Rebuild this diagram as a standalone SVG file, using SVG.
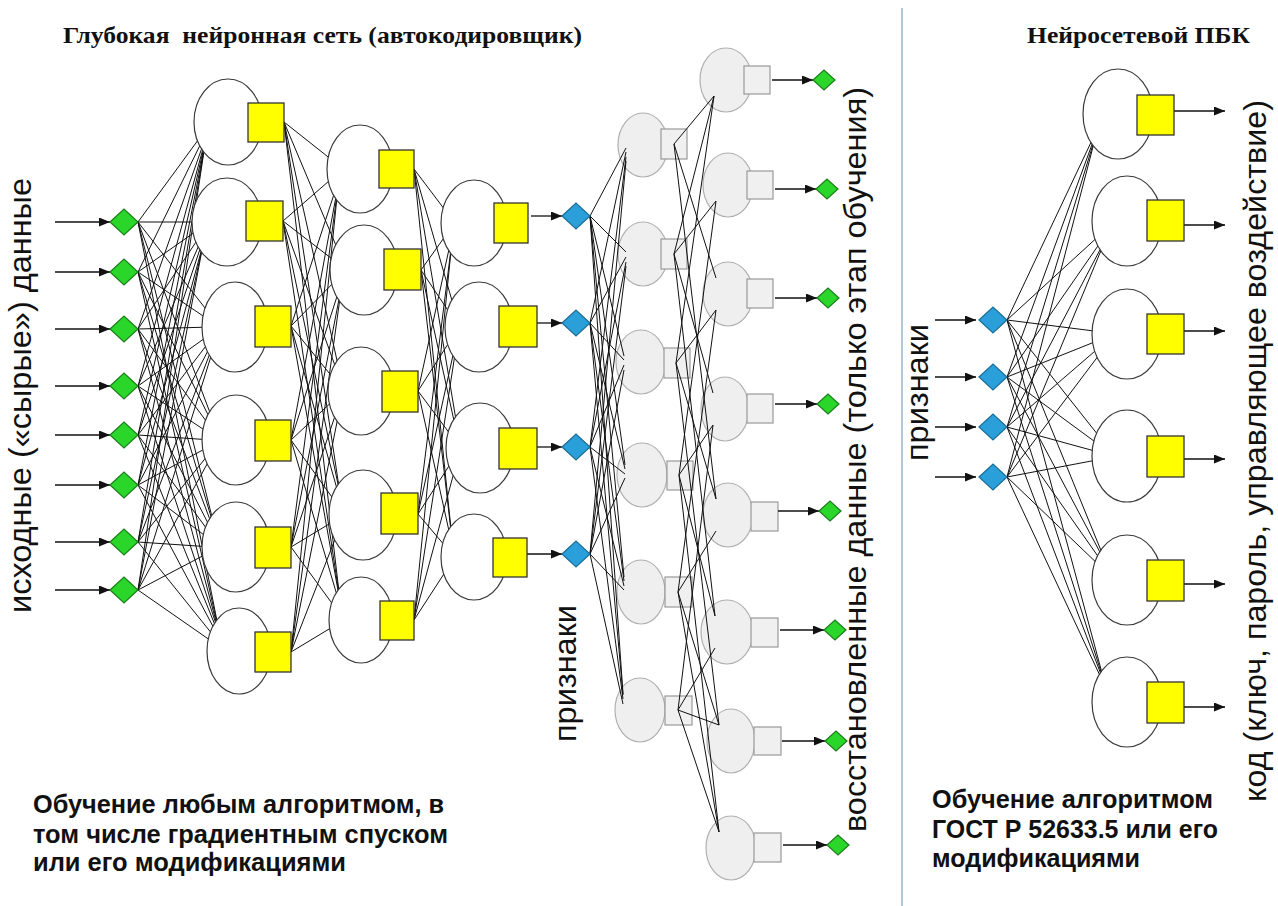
<svg xmlns="http://www.w3.org/2000/svg" width="1278" height="906" viewBox="0 0 1278 906">
  <style>
    .ln { stroke:#111; stroke-width:1; fill:none; }
    .ar { stroke:#111; stroke-width:1.3; fill:none; marker-end:url(#ah); }
    .enc { fill:#fff; stroke:#3a3a3a; stroke-width:1.2; }
    .ysq { fill:#ffff00; stroke:#333; stroke-width:1.3; }
    .dec { fill:#efefef; stroke:#b0b0b0; stroke-width:1.2; }
    .gsq { fill:#f0f0f0; stroke:#999; stroke-width:1.2; }
    .gd { fill:#2bd62b; stroke:#1c7d1c; stroke-width:1.2; }
    .bd { fill:#2b9fd9; stroke:#1d6d96; stroke-width:1.2; }
    .vt { font-family:"Liberation Sans", Arial, sans-serif; font-size:32px; fill:#111; }
    .hd { font-family:"Liberation Serif", "Times New Roman", serif; font-weight:bold; font-size:23px; fill:#111; }
    .nt { font-family:"Liberation Sans", Arial, sans-serif; font-weight:bold; font-size:25px; fill:#111; }
  </style>
  <defs>
    <marker id="ah" markerUnits="userSpaceOnUse" markerWidth="11" markerHeight="9" refX="11" refY="4.5" orient="auto">
      <path d="M0,0 L11,4.5 L0,9 z" fill="#111"/>
    </marker>
  </defs>
  <rect width="1278" height="906" fill="#fff"/>

  <!-- headings -->
  <text class="hd" x="63" y="43" textLength="519" lengthAdjust="spacingAndGlyphs" xml:space="preserve">Глубокая  нейронная сеть (автокодировщик)</text>
  <text class="hd" x="1027" y="43" textLength="223" lengthAdjust="spacingAndGlyphs">Нейросетевой ПБК</text>

  <!-- vertical labels -->
  <text class="vt" transform="translate(31,613) rotate(-90)" textLength="435" lengthAdjust="spacingAndGlyphs">исходные («сырые») данные</text>
  <text class="vt" transform="translate(576,742) rotate(-90)" textLength="137" lengthAdjust="spacingAndGlyphs">признаки</text>
  <text class="vt" transform="translate(866,832) rotate(-90)" textLength="745" lengthAdjust="spacingAndGlyphs">восстановленные данные (только этап обучения)</text>
  <text class="vt" transform="translate(928,461) rotate(-90)" textLength="137" lengthAdjust="spacingAndGlyphs">признаки</text>
  <text class="vt" transform="translate(1266,802) rotate(-90)" textLength="702" lengthAdjust="spacingAndGlyphs">код (ключ, пароль, управляющее воздействие)</text>

  <!-- notes -->
  <text class="nt" x="33" y="813" textLength="411" lengthAdjust="spacingAndGlyphs">Обучение любым алгоритмом, в</text>
  <text class="nt" x="33" y="843" textLength="415" lengthAdjust="spacingAndGlyphs">том числе градиентным спуском</text>
  <text class="nt" x="33" y="871" textLength="313" lengthAdjust="spacingAndGlyphs">или его модификациями</text>
  <text class="nt" x="932" y="808" textLength="281" lengthAdjust="spacingAndGlyphs">Обучение алгоритмом</text>
  <text class="nt" x="932" y="838" textLength="286" lengthAdjust="spacingAndGlyphs">ГОСТ Р 52633.5 или его</text>
  <text class="nt" x="932" y="867" textLength="208" lengthAdjust="spacingAndGlyphs">модификациями</text>

  <!-- section divider -->
  <line x1="902" y1="8" x2="902" y2="906" stroke="#9db3c6" stroke-width="1.5"/>

  <!-- decoder, first hidden layer -->
  <g id="dec1-1"><ellipse class="dec" cx="643" cy="145" rx="25" ry="32"/><rect class="gsq" x="661" y="129" width="26" height="30"/></g>
  <g id="dec1-2"><ellipse class="dec" cx="643" cy="254" rx="25" ry="32"/><rect class="gsq" x="661" y="239" width="26" height="30"/></g>
  <g id="dec1-3"><ellipse class="dec" cx="641" cy="362" rx="25" ry="32"/><rect class="gsq" x="664" y="348" width="26" height="30"/></g>
  <g id="dec1-4"><ellipse class="dec" cx="642" cy="475" rx="25" ry="32"/><rect class="gsq" x="667" y="461" width="26" height="29"/></g>
  <g id="dec1-5"><ellipse class="dec" cx="641" cy="592" rx="24" ry="32"/><rect class="gsq" x="665" y="577" width="27" height="30"/></g>
  <g id="dec1-6"><ellipse class="dec" cx="640" cy="710" rx="25" ry="32"/><rect class="gsq" x="665" y="696" width="27" height="29"/></g>

  <!-- decoder, output layer -->
  <g id="dec2-1"><ellipse class="dec" cx="726" cy="80" rx="26" ry="32"/><rect class="gsq" x="744" y="66" width="26" height="28"/></g>
  <g id="dec2-2"><ellipse class="dec" cx="728" cy="185" rx="25" ry="32"/><rect class="gsq" x="747" y="171" width="26" height="28"/></g>
  <g id="dec2-3"><ellipse class="dec" cx="728" cy="294" rx="25" ry="32"/><rect class="gsq" x="747" y="279" width="26" height="29"/></g>
  <g id="dec2-4"><ellipse class="dec" cx="725" cy="409" rx="24" ry="32"/><rect class="gsq" x="747" y="394" width="26" height="29"/></g>
  <g id="dec2-5"><ellipse class="dec" cx="728" cy="515" rx="25" ry="32"/><rect class="gsq" x="751" y="502" width="27" height="29"/></g>
  <g id="dec2-6"><ellipse class="dec" cx="727" cy="632" rx="26" ry="32"/><rect class="gsq" x="751" y="618" width="27" height="29"/></g>
  <g id="dec2-7"><ellipse class="dec" cx="731" cy="741" rx="24" ry="32"/><rect class="gsq" x="754" y="727" width="27" height="28"/></g>
  <g id="dec2-8"><ellipse class="dec" cx="731" cy="848" rx="25" ry="32"/><rect class="gsq" x="754" y="833" width="27" height="29"/></g>

  <g id="connectors">
    <!-- raw inputs -->
    <line class="ar" x1="55" y1="222" x2="110" y2="222"/>
    <line class="ar" x1="55" y1="272" x2="110" y2="272"/>
    <line class="ar" x1="55" y1="329" x2="110" y2="329"/>
    <line class="ar" x1="55" y1="386" x2="110" y2="386"/>
    <line class="ar" x1="55" y1="435" x2="110" y2="435"/>
    <line class="ar" x1="55" y1="485" x2="110" y2="485"/>
    <line class="ar" x1="55" y1="542" x2="110" y2="542"/>
    <line class="ar" x1="55" y1="590" x2="110" y2="590"/>

    <!-- inputs to hidden layer 1 -->
    <path class="ln" d="M138 222L204 132M138 272L204 137M138 329L204 142M138 386L204 145M138 435L204 147M138 485L204 149M138 542L204 150M138 590L204 151"/>
    <path class="ln" d="M138 222L202 222M138 272L202 227M138 329L202 233M138 386L202 238M138 435L202 243M138 485L202 248M138 542L202 249M138 590L202 250"/>
    <path class="ln" d="M138 222L212 317M138 272L212 322M138 329L212 327M138 386L212 333M138 435L212 338M138 485L212 343M138 542L212 348M138 590L212 353"/>
    <path class="ln" d="M138 222L212 418M138 272L212 423M138 329L212 429M138 386L212 435M138 435L212 440M138 485L212 445M138 542L212 450M138 590L212 455"/>
    <path class="ln" d="M138 222L212 517M138 272L212 520M138 329L212 525M138 386L212 531M138 435L212 536M138 485L212 541M138 542L212 547M138 590L212 551"/>
    <path class="ln" d="M138 222L217 621M138 272L217 623M138 329L217 625M138 386L217 627M138 435L217 630M138 485L217 634M138 542L217 640M138 590L217 645"/>

    <!-- hidden layer 1 to hidden layer 2 -->
    <path class="ln" d="M284 122L337 164M283 221L337 174M291 326L337 185M291 440L337 191M291 547L337 194M291 652L337 197"/>
    <path class="ln" d="M284 122L340 255M283 221L340 265M291 326L340 276M291 440L340 287M291 547L340 294M291 652L340 298"/>
    <path class="ln" d="M284 122L338 365M283 221L338 374M291 326L338 384M291 440L338 396M291 547L338 407M291 652L338 417"/>
    <path class="ln" d="M284 122L339 487M283 221L339 489M291 326L339 496M291 440L339 507M291 547L339 518M291 652L339 529"/>
    <path class="ln" d="M284 122L339 592M283 221L339 594M291 326L339 596M291 440L339 602M291 547L339 613M291 652L339 623"/>

    <!-- hidden layer 2 to code layer -->
    <path class="ln" d="M414 169L451 218M421 270L451 228M418 391L451 240M418 514L451 249M414 620L451 251"/>
    <path class="ln" d="M414 169L455 311M421 270L455 321M418 391L455 333M418 514L455 346M414 620L455 354"/>
    <path class="ln" d="M414 169L456 420M421 270L456 430M418 391L456 442M418 514L456 455M414 620L456 465"/>
    <path class="ln" d="M414 169L451 529M421 270L451 531M418 391L451 540M418 514L451 553M414 620L451 563"/>

    <!-- code layer outputs -->
    <line class="ar" x1="531" y1="216" x2="562" y2="216"/>
    <line class="ar" x1="537" y1="323" x2="562" y2="323"/>
    <line class="ar" x1="537" y1="447" x2="562" y2="447"/>
    <line class="ar" x1="527" y1="554" x2="562" y2="554"/>

    <!-- features to decoder layer 1 -->
    <path class="ln" d="M590 216L626 148M590 323L626 152M590 447L626 157M590 554L626 161"/>
    <path class="ln" d="M590 216L626 252M590 323L626 257M590 447L626 262M590 554L626 266"/>
    <path class="ln" d="M590 216L624 356M590 323L624 360M590 447L624 365M590 554L624 370"/>
    <path class="ln" d="M590 216L625 465M590 323L625 469M590 447L625 474M590 554L625 478"/>
    <path class="ln" d="M590 216L624 577M590 323L624 581M590 447L624 586M590 554L624 590"/>
    <path class="ln" d="M590 216L623 694M590 323L623 695M590 447L623 699M590 554L623 704"/>

    <!-- decoder layer 1 to decoder layer 2 -->
    <path class="ln" d="M674 144L714 96M674 144L716 278M674 144L716 499"/>
    <path class="ln" d="M674 254L714 96M674 254L716 201M674 254L713 393M674 254L715 616"/>
    <path class="ln" d="M676 363L714 96M676 363L716 310M676 363L716 499M676 363L719 725"/>
    <path class="ln" d="M679 475L716 201M679 475L713 425M679 475L715 616M679 475L719 832"/>
    <path class="ln" d="M678 592L716 310M678 592L716 531M678 592L719 725M678 592L719 832"/>
    <path class="ln" d="M678 710L713 425M678 710L715 648M678 710L719 725M678 710L719 832"/>

    <!-- reconstructed outputs -->
    <line class="ar" x1="772" y1="80" x2="813" y2="80"/>
    <line class="ar" x1="775" y1="189" x2="816" y2="189"/>
    <line class="ar" x1="775" y1="298" x2="817" y2="298"/>
    <line class="ar" x1="775" y1="404" x2="817" y2="404"/>
    <line class="ar" x1="778" y1="511" x2="819" y2="511"/>
    <line class="ar" x1="780" y1="630" x2="824" y2="630"/>
    <line class="ar" x1="782" y1="741" x2="825" y2="741"/>
    <line class="ar" x1="783" y1="845" x2="827" y2="845"/>

    <!-- converter inputs -->
    <line class="ar" x1="935" y1="320" x2="976" y2="320"/>
    <line class="ar" x1="935" y1="377" x2="976" y2="377"/>
    <line class="ar" x1="935" y1="427" x2="976" y2="427"/>
    <line class="ar" x1="935" y1="477" x2="976" y2="477"/>

    <!-- features to converter neurons -->
    <path class="ln" d="M1007 320L1094 136M1007 377L1094 139M1007 427L1094 141M1007 477L1094 143"/>
    <path class="ln" d="M1007 320L1102 233M1007 377L1102 240M1007 427L1102 246M1007 477L1102 248"/>
    <path class="ln" d="M1007 320L1102 332M1007 377L1102 339M1007 427L1102 345M1007 477L1102 351"/>
    <path class="ln" d="M1007 320L1102 440M1007 377L1102 447M1007 427L1102 453M1007 477L1102 459"/>
    <path class="ln" d="M1007 320L1102 553M1007 377L1102 556M1007 427L1102 562M1007 477L1102 568"/>
    <path class="ln" d="M1007 320L1102 673M1007 377L1102 675M1007 427L1102 677M1007 477L1102 680"/>

    <!-- converter outputs -->
    <line class="ar" x1="1174" y1="111" x2="1225" y2="111"/>
    <line class="ar" x1="1184" y1="225" x2="1225" y2="225"/>
    <line class="ar" x1="1184" y1="331" x2="1225" y2="331"/>
    <line class="ar" x1="1184" y1="459" x2="1225" y2="459"/>
    <line class="ar" x1="1184" y1="584" x2="1225" y2="584"/>
    <line class="ar" x1="1184" y1="707" x2="1225" y2="707"/>
  </g>

  <!-- raw input points -->
  <g id="in-1"><polygon class="gd" points="110,222 124,209 138,222 124,235"/></g>
  <g id="in-2"><polygon class="gd" points="110,272 124,259 138,272 124,285"/></g>
  <g id="in-3"><polygon class="gd" points="110,329 124,316 138,329 124,342"/></g>
  <g id="in-4"><polygon class="gd" points="110,386 124,373 138,386 124,399"/></g>
  <g id="in-5"><polygon class="gd" points="110,435 124,422 138,435 124,448"/></g>
  <g id="in-6"><polygon class="gd" points="110,485 124,472 138,485 124,498"/></g>
  <g id="in-7"><polygon class="gd" points="110,542 124,529 138,542 124,555"/></g>
  <g id="in-8"><polygon class="gd" points="110,590 124,577 138,590 124,603"/></g>

  <!-- encoder, hidden layer 1 -->
  <g id="h1-1"><ellipse class="enc" cx="228" cy="122" rx="34" ry="43"/><rect class="ysq" x="248" y="103" width="36" height="39"/></g>
  <g id="h1-2"><ellipse class="enc" cx="227" cy="222" rx="35" ry="44"/><rect class="ysq" x="246" y="201" width="37" height="40"/></g>
  <g id="h1-3"><ellipse class="enc" cx="235" cy="327" rx="33" ry="45"/><rect class="ysq" x="255" y="306" width="36" height="41"/></g>
  <g id="h1-4"><ellipse class="enc" cx="236" cy="440" rx="34" ry="45"/><rect class="ysq" x="255" y="420" width="36" height="41"/></g>
  <g id="h1-5"><ellipse class="enc" cx="236" cy="547" rx="34" ry="45"/><rect class="ysq" x="255" y="527" width="36" height="41"/></g>
  <g id="h1-6"><ellipse class="enc" cx="239" cy="651" rx="32" ry="43"/><rect class="ysq" x="255" y="632" width="36" height="40"/></g>

  <!-- encoder, hidden layer 2 -->
  <g id="h2-1"><ellipse class="enc" cx="360" cy="169" rx="33" ry="44"/><rect class="ysq" x="379" y="150" width="35" height="38"/></g>
  <g id="h2-2"><ellipse class="enc" cx="364" cy="270" rx="34" ry="45"/><rect class="ysq" x="384" y="249" width="37" height="41"/></g>
  <g id="h2-3"><ellipse class="enc" cx="361" cy="391" rx="33" ry="44"/><rect class="ysq" x="382" y="371" width="36" height="41"/></g>
  <g id="h2-4"><ellipse class="enc" cx="363" cy="515" rx="34" ry="45"/><rect class="ysq" x="381" y="493" width="37" height="41"/></g>
  <g id="h2-5"><ellipse class="enc" cx="361" cy="620" rx="32" ry="43"/><rect class="ysq" x="380" y="601" width="34" height="39"/></g>

  <!-- encoder, code layer -->
  <g id="h3-1"><ellipse class="enc" cx="474" cy="223" rx="33" ry="43"/><rect class="ysq" x="494" y="203" width="34" height="40"/></g>
  <g id="h3-2"><ellipse class="enc" cx="479" cy="327" rx="34" ry="45"/><rect class="ysq" x="499" y="306" width="38" height="41"/></g>
  <g id="h3-3"><ellipse class="enc" cx="480" cy="448" rx="34" ry="45"/><rect class="ysq" x="499" y="428" width="38" height="41"/></g>
  <g id="h3-4"><ellipse class="enc" cx="474" cy="557" rx="33" ry="43"/><rect class="ysq" x="493" y="538" width="34" height="39"/></g>

  <!-- extracted features -->
  <g id="feat-1"><polygon class="bd" points="562,216 576,203 590,216 576,229"/></g>
  <g id="feat-2"><polygon class="bd" points="562,323 576,310 590,323 576,336"/></g>
  <g id="feat-3"><polygon class="bd" points="562,447 576,434 590,447 576,460"/></g>
  <g id="feat-4"><polygon class="bd" points="562,554 576,541 590,554 576,567"/></g>

  <!-- reconstructed data points -->
  <g id="out-1"><polygon class="gd" points="813,80 824,70 835,80 824,90"/></g>
  <g id="out-2"><polygon class="gd" points="816,189 827,179 838,189 827,199"/></g>
  <g id="out-3"><polygon class="gd" points="817,298 828,288 839,298 828,308"/></g>
  <g id="out-4"><polygon class="gd" points="817,404 828,394 839,404 828,414"/></g>
  <g id="out-5"><polygon class="gd" points="819,511 830,501 841,511 830,521"/></g>
  <g id="out-6"><polygon class="gd" points="824,630 835,620 846,630 835,640"/></g>
  <g id="out-7"><polygon class="gd" points="825,741 836,731 847,741 836,751"/></g>
  <g id="out-8"><polygon class="gd" points="827,845 838,835 849,845 838,855"/></g>

  <!-- converter inputs (features) -->
  <g id="pf-1"><polygon class="bd" points="979,320 993,307 1007,320 993,333"/></g>
  <g id="pf-2"><polygon class="bd" points="979,377 993,364 1007,377 993,390"/></g>
  <g id="pf-3"><polygon class="bd" points="979,427 993,414 1007,427 993,440"/></g>
  <g id="pf-4"><polygon class="bd" points="979,477 993,464 1007,477 993,490"/></g>

  <!-- converter neurons -->
  <g id="pbk-1"><ellipse class="enc" cx="1118" cy="114" rx="35" ry="45"/><rect class="ysq" x="1137" y="95" width="37" height="40"/></g>
  <g id="pbk-2"><ellipse class="enc" cx="1127" cy="221" rx="35" ry="45"/><rect class="ysq" x="1147" y="200" width="37" height="41"/></g>
  <g id="pbk-3"><ellipse class="enc" cx="1127" cy="334" rx="35" ry="45"/><rect class="ysq" x="1147" y="314" width="37" height="40"/></g>
  <g id="pbk-4"><ellipse class="enc" cx="1127" cy="456" rx="35" ry="46"/><rect class="ysq" x="1147" y="436" width="37" height="41"/></g>
  <g id="pbk-5"><ellipse class="enc" cx="1127" cy="580" rx="35" ry="45"/><rect class="ysq" x="1147" y="560" width="37" height="41"/></g>
  <g id="pbk-6"><ellipse class="enc" cx="1127" cy="702" rx="35" ry="45"/><rect class="ysq" x="1147" y="682" width="37" height="41"/></g>
</svg>
